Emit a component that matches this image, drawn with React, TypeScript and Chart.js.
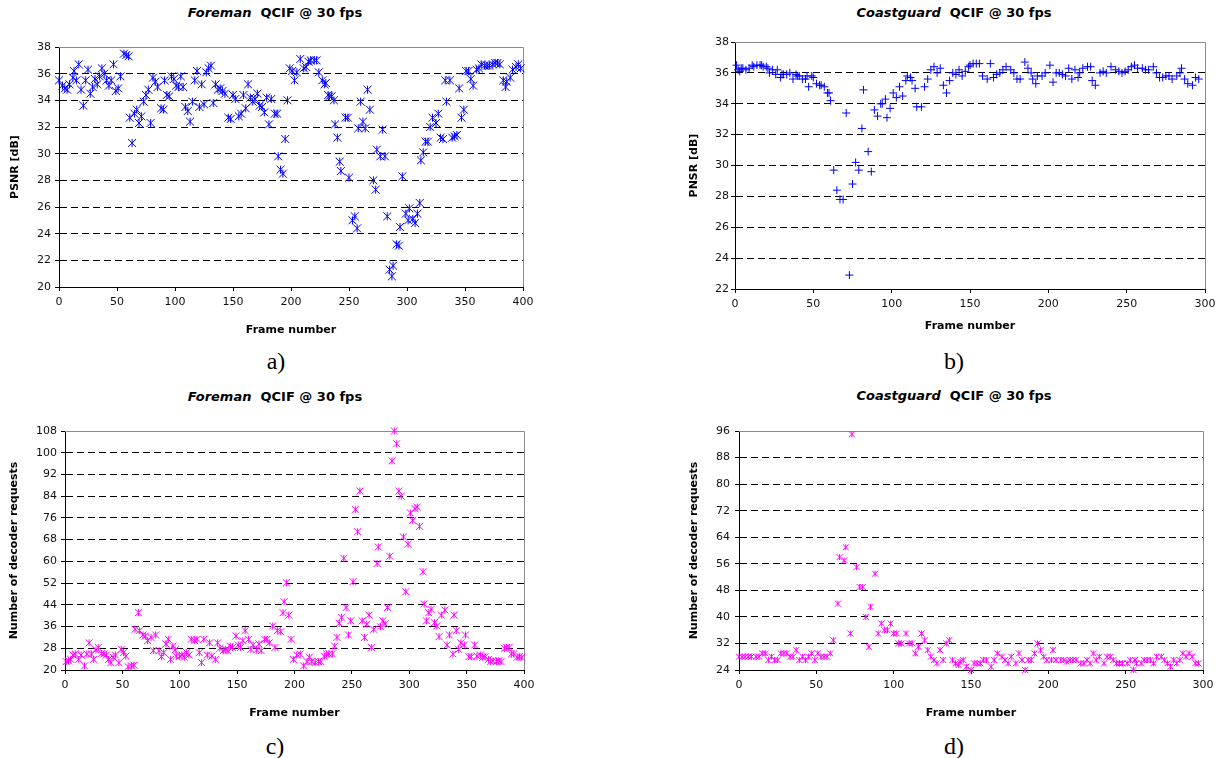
import React, { useEffect, useRef } from "react";
import { Chart, registerables } from "chart.js";

Chart.register(...registerables);

// ---------- Data ----------
// a) Foreman QCIF @ 30 fps – PSNR [dB]
const foremanPsnrFrames = [
  0, 3, 5, 7, 9, 12, 13, 15, 17, 19, 21, 23, 25, 27, 29, 31, 33, 35, 37, 39, 41, 43, 45, 47, 49, 51, 53, 56, 58, 60,
  61, 63, 65, 67, 69, 71, 73, 75, 77, 79, 81, 83, 85, 88, 90, 91, 93, 95, 97, 99, 101, 103, 105, 107, 109, 111, 113,
  115, 117, 119, 121, 123, 125, 127, 129, 131, 133, 135, 137, 139, 141, 143, 146, 148, 150, 152, 155, 157, 159, 161,
  163, 165, 167, 169, 171, 173, 175, 177, 179, 181, 183, 186, 188, 189, 191, 193, 195, 197, 199, 201, 203, 205, 208,
  211, 213, 215, 217, 220, 222, 224, 227, 229, 230, 232, 233, 235, 237, 238, 240, 242, 243, 247, 249, 250, 253, 255,
  257, 258, 260, 262, 264, 266, 268, 271, 273, 274, 277, 279, 281, 283, 285, 287, 288, 291, 293, 294, 296, 299, 301,
  302, 305, 307, 309, 311, 312, 314, 316, 318, 320, 322, 325, 327, 329, 331, 333, 334, 337, 339, 341, 343, 345, 347,
  349, 351, 353, 355, 357, 360, 362, 364, 367, 369, 371, 374, 376, 378, 380, 383, 385, 386, 389, 391, 394, 396, 398,
];
const foremanPsnrDb = [
  35.5, 35.1, 34.9, 34.8, 35.2, 35.7, 36.2, 35.5, 36.7, 34.8, 33.6, 35.5, 36.3, 34.5, 35.0, 35.6, 35.2, 35.8, 36.4,
  36.0, 35.5, 35.1, 35.5, 36.7, 34.7, 34.9, 35.8, 37.5, 37.4, 37.3,
  32.7, 30.8, 33.0, 33.3, 32.3, 32.8, 33.9, 34.4, 34.8, 32.3, 35.7, 35.4, 35.0, 33.4, 33.3, 35.5, 34.4, 34.3, 35.8,
  35.6, 35.1, 35.0, 35.8, 35.0, 33.5, 33.2, 32.4,
  33.9, 35.5, 36.2, 33.5, 35.2, 33.7, 36.1, 36.4, 36.6, 33.8, 35.2, 34.8, 34.9, 34.7, 34.5, 32.7, 32.6, 34.4, 34.1,
  32.8, 33.0, 34.4, 33.4,
  35.2, 34.2, 33.9, 34.1, 34.5, 33.6, 33.5, 33.1, 34.2, 32.2, 34.1, 33.0, 33.0, 29.8, 28.8, 28.5, 31.1, 34.0, 36.4,
  36.2, 35.5, 36.1, 37.1,
  36.4, 36.5, 36.9, 37.0, 37.0, 37.0, 36.1, 35.5, 35.2, 35.3, 34.4, 34.3, 34.3, 34.0, 32.2, 31.2, 29.4, 28.7, 32.7,
  32.7, 28.2, 25.0, 25.3,
  24.4, 31.9, 33.9, 32.4, 31.9, 34.8, 33.3, 28.0, 27.3, 30.3, 29.8, 31.8, 29.8, 25.3, 21.3, 20.8, 21.6, 23.2, 23.1,
  24.5, 28.3, 25.5, 25.0,
  25.9, 25.1, 24.8, 25.5, 26.3, 29.5, 30.1, 30.9, 30.9, 32.0, 32.7, 32.3, 33.0, 31.2, 31.1, 35.5, 33.9, 35.5, 31.2,
  31.3, 31.4, 34.9, 32.7,
  33.3, 36.2, 36.2, 35.6, 35.1, 36.3, 36.4, 36.7, 36.6, 36.6, 36.6, 36.7, 36.8, 36.8, 36.7, 35.5, 35.0, 35.4, 35.7,
  36.3, 36.5, 36.7, 36.4,
];

// b) Coastguard QCIF @ 30 fps – PSNR [dB]
const coastguardPsnrFrames = [
  1, 2, 3, 4, 5, 7, 9, 11, 12, 14, 16, 17, 18, 20, 21, 22, 24, 26, 27, 29, 30, 31, 33, 35, 37, 39, 40, 41, 43, 45, 46,
  47, 49, 50, 52, 54, 55, 57, 59, 60, 61, 63, 65, 67, 69, 71, 73, 75, 77, 79, 81, 82, 85, 87, 89, 91, 93, 94, 96, 97,
  99, 101, 103, 105, 107, 109, 110, 112, 113, 115, 116, 119, 121, 123, 125, 127, 129, 131, 133, 135, 137, 139, 141,
  143, 145, 147, 149, 150, 152, 154, 156, 158, 161, 163, 165, 167, 169, 171, 173, 176, 178, 180, 182, 185, 187, 189,
  190, 192, 193, 196, 198, 201, 203, 205, 207, 209, 211, 213, 215, 217, 219, 220, 222, 225, 227, 228, 230, 233, 235,
  237, 240, 243, 245, 247, 249, 251, 253, 255, 257, 260, 262, 264, 267, 269, 271, 273, 275, 277, 279, 282, 284, 285,
  287, 289, 292, 294, 296,
];
const coastguardPsnrDb = [
  36.5, 36.2, 36.1, 36.3, 36.3, 36.2, 36.3, 36.5, 36.4, 36.5, 36.5, 36.5, 36.4, 36.4, 36.3, 36.0, 36.2, 35.9, 36.2,
  35.7, 35.9, 35.9, 35.9, 36.0, 35.6, 35.9, 35.8, 35.8, 35.6, 35.6, 35.8,
  35.1, 35.8, 35.7, 35.3, 35.2, 35.2, 35.1, 34.7, 34.7, 34.2, 29.7, 28.4, 27.8, 27.8, 33.4, 22.9, 28.8, 30.2, 29.7,
  32.4, 34.9, 30.9, 29.6, 33.6, 33.2, 34.0, 34.0, 34.3, 33.1,
  33.7, 34.7, 34.4, 35.1, 34.5, 35.5, 35.8, 35.7, 35.5, 35.0, 33.8, 33.8, 35.1, 35.6, 36.2, 36.4, 36.0, 36.3, 35.2,
  34.7, 35.5, 36.0, 35.9,
  36.2, 35.8, 36.1, 36.4, 36.5, 36.6, 36.6, 36.6, 35.8, 35.6, 36.6, 35.7, 35.9, 36.0, 36.2, 36.4, 36.2, 36.0, 35.6,
  35.6, 36.7, 36.3, 36.0,
  35.6, 35.3, 35.8, 35.8, 36.0, 36.5, 35.4, 36.0, 36.0, 35.9, 35.8, 36.3, 35.6, 36.2, 35.7, 36.0, 36.3, 36.4, 36.4,
  35.5, 35.2, 36.0, 36.1,
  36.0, 36.4, 36.2, 36.1, 36.0, 36.1, 36.2, 36.4, 36.5, 36.3, 36.3, 36.2, 36.2, 36.4, 36.0, 35.7, 35.7, 35.8, 35.8,
  35.6, 35.8, 36.0, 36.3,
  35.6, 35.3, 35.2, 35.7, 35.6,
];

// c) Foreman QCIF @ 30 fps – number of decoder requests
const foremanReqFrames = [
  1, 3, 5, 7, 9, 12, 14, 17, 19, 21, 23, 25, 27, 29, 32, 34, 36, 38, 40, 42, 44, 47, 49, 51, 53, 55, 58, 60, 61, 64,
  65, 68, 70, 72, 75, 77, 79, 82, 84, 86, 88, 90, 92, 94, 96, 97, 100, 102, 104, 106, 108, 110, 113, 115, 117, 119,
  121, 124, 126, 128, 131, 133, 135, 138, 140, 142, 144, 146, 149, 151, 153, 155, 157, 160, 162, 164, 167, 169, 171,
  174, 176, 178, 181, 183, 185, 188, 190, 191, 193, 195, 197, 199, 202, 205, 208, 211, 213, 215, 218, 221, 223, 226,
  228, 230, 233, 235, 237, 239, 241, 243, 245, 247, 249, 251, 253, 255, 257, 259, 261, 263, 265, 267, 269, 272, 273,
  275, 277, 279, 281, 283, 285, 287, 289, 291, 293, 295, 297, 299, 301, 303, 305, 307, 309, 312, 313, 315, 317, 319,
  322, 324, 326, 328, 331, 333, 335, 338, 339, 341, 343, 345, 348, 349, 352, 354, 357, 359, 362, 364, 366, 369, 371,
  373, 376, 378, 380, 383, 385, 387, 389, 391, 394, 396, 398,
];
const foremanRequests = [
  23.1, 23.4, 23.9, 25.5, 25.9, 23.9, 25.5, 21.5, 25.9, 30.0, 25.9, 23.9, 27.4, 28.3, 26.1, 25.9, 25.5, 23.9, 22.7,
  24.7, 25.5, 22.7, 27.6, 26.4, 25.1, 21.2, 21.5, 21.8, 35.0, 41.1,
  34.5, 32.9, 32.5, 30.8, 32.0, 27.1, 32.9, 27.1, 24.9, 26.4, 29.6, 31.3, 23.9, 28.8, 27.4, 25.1, 25.1, 25.5, 24.7,
  26.4, 25.5, 31.3, 30.8, 31.3, 26.4, 22.7,
  31.3, 25.5, 30.0, 25.1, 23.9, 30.0, 28.0, 27.1, 27.6, 27.1, 28.8, 28.3, 32.5, 29.2, 28.3, 30.8, 34.5, 31.3, 27.6,
  29.2, 27.4, 29.6, 27.1,
  31.3, 31.3, 30.0, 36.2, 28.3, 34.5, 34.1, 41.1, 45.1, 52.1, 40.2, 31.3, 23.9, 25.5, 25.9, 21.5, 23.1, 24.7, 23.1,
  22.7, 23.1, 23.1, 25.1,
  25.9, 25.9, 25.9, 28.8, 32.0, 37.2, 39.4, 61.1, 43.0, 32.9, 38.1, 52.5, 79.1, 70.9, 85.9, 38.1, 32.0, 36.9, 40.2,
  28.3, 35.0, 59.2, 65.3,
  35.9, 38.1, 36.9, 43.0, 61.9, 97.0, 108.0, 103.3, 85.9, 84.0, 69.0, 48.8, 66.3, 77.8, 75.1, 79.4, 80.0, 72.9, 56.2,
  44.3, 38.1, 41.1, 42.3,
  37.4, 36.2, 32.3, 40.2, 42.1, 29.2, 32.9, 25.9, 40.2, 34.5, 27.6, 30.0, 29.2, 32.9, 24.9, 24.9, 29.2, 25.1, 25.5,
  24.7, 24.9, 23.9, 23.1,
  23.4, 23.1, 23.4, 23.1, 28.0, 28.3, 28.3, 25.9, 25.9, 24.7, 24.9, 24.7,
];

// d) Coastguard QCIF @ 30 fps – number of decoder requests
const coastguardReqFrames = [
  0, 2, 4, 6, 8, 11, 13, 15, 17, 19, 21, 23, 25, 27, 29, 31, 33, 35, 37, 39, 41, 43, 45, 47, 49, 51, 53, 55, 57, 59,
  61, 64, 65, 68, 69, 72, 73, 76, 78, 80, 82, 84, 85, 88, 90, 92, 94, 96, 98, 100, 102, 103, 105, 108, 110, 112, 114,
  116, 118, 120, 122, 124, 126, 128, 130, 132, 134, 136, 138, 140, 142, 143, 145, 147, 150, 152, 154, 156, 158, 160,
  163, 165, 167, 170, 172, 174, 176, 179, 181, 183, 185, 187, 189, 191, 193, 195, 197, 199, 202, 203, 205, 208, 210,
  212, 214, 216, 218, 221, 223, 225, 227, 229, 231, 233, 236, 238, 240, 242, 244, 246, 248, 251, 253, 255, 256, 257,
  260, 262, 264, 266, 268, 270, 273, 275, 277, 279, 281, 283, 285, 287, 289, 291, 293, 295, 297,
];
const coastguardRequests = [
  28, 28, 28, 28, 28, 28, 28, 29, 29, 27, 28, 27, 27, 29, 29, 29, 28, 28, 30, 27, 28, 27, 28, 29, 27, 29, 28, 28, 28,
  29,
  33, 44, 58, 57, 61, 35, 95, 55, 49, 49, 40, 31, 43, 53, 35, 38, 36, 36, 38, 35, 35, 32, 32, 35, 32, 32, 29,
  31, 35, 33, 30, 28, 27, 26, 30, 27, 32, 33, 27, 26, 25.5, 26.5, 27, 25, 24, 26, 26, 26, 27, 27,
  25, 27, 29, 28, 27, 26, 28, 26, 29, 27, 24, 27, 27, 29, 32, 30, 28, 27, 27, 30, 27, 27, 27,
  26.5, 27, 27, 27, 26, 26, 27, 26, 29, 27, 28, 26, 28, 28, 27, 26, 26, 26, 26, 27, 24, 27, 26,
  26, 27, 27, 27, 26, 28, 28, 27, 26, 25, 27, 26, 27, 29, 28, 29, 28, 26, 26,
];

// ---------- Helpers ----------
const FONT = "'DejaVu Sans', Verdana, sans-serif";

const frameBorder = {
  id: "frameBorder",
  beforeDatasetsDraw(chart: any) {
    const { ctx, chartArea } = chart;
    const l = chartArea.left;
    const t = Math.round(chartArea.top) + 0.5;
    const r = Math.round(chartArea.right) + 0.5;
    const b = chartArea.bottom;
    ctx.save();
    ctx.strokeStyle = "#8a8a8a";
    ctx.lineWidth = 1;
    ctx.setLineDash([]);
    ctx.beginPath();
    ctx.moveTo(l, t);
    ctx.lineTo(r, t);
    ctx.lineTo(r, b);
    ctx.stroke();
    ctx.restore();
  },
};

type PanelProps = {
  left: number;
  top: number;
  width: number;
  height: number;
  frames: number[];
  values: number[];
  xMax: number;
  yMin: number;
  yMax: number;
  yStep: number;
  yTitle: string;
  markerKind: "asterisk" | "plus";
  color: string;
  markerSize: number;
  padTop: number;
  padRight: number;
  yAxisWidth: number;
  xAxisHeight: number;
  yTitlePad: number;
  xTitlePad: number;
  yTickPad: number;
};

function Panel(p: PanelProps) {
  const ref = useRef<HTMLCanvasElement>(null);
  useEffect(() => {
    const points = p.frames.map((f, i) => ({ x: f, y: p.values[i] }));
    const base = {
      data: points,
      showLine: false,
      clip: false as any,
      pointBorderColor: p.color,
      pointBackgroundColor: p.color,
      pointBorderWidth: 1,
    };
    const datasets: any[] =
      p.markerKind === "plus"
        ? [{ ...base, pointStyle: "cross", pointRadius: p.markerSize / 2 }]
        : [
            { ...base, pointStyle: "crossRot", pointRadius: (p.markerSize / 2) * 1.41 },
            { ...base, pointStyle: "line", pointRotation: 90, pointRadius: p.markerSize / 2 },
          ];
    const chart = new Chart(ref.current!, {
      type: "scatter",
      data: { datasets },
      options: {
        responsive: false,
        maintainAspectRatio: false,
        animation: false,
        devicePixelRatio: 1,
        events: [],
        layout: { padding: { top: p.padTop, right: p.padRight, left: 0, bottom: 0 } },
        plugins: { legend: { display: false }, tooltip: { enabled: false }, title: { display: false } },
        scales: {
          x: {
            type: "linear",
            min: 0,
            max: p.xMax,
            ticks: {
              stepSize: 50,
              autoSkip: false,
              maxRotation: 0,
              color: "#111",
              padding: 5,
              font: { family: FONT, size: 11 },
            },
            grid: {
              drawOnChartArea: false,
              drawTicks: true,
              tickLength: 4,
              tickColor: "#000",
              tickWidth: 1,
            },
            border: { display: true, color: "#000", width: 1 },
            title: {
              display: true,
              text: "Frame number",
              color: "#000",
              font: { family: FONT, size: 11, weight: "bold" },
              padding: { top: 0, bottom: p.xTitlePad },
            },
            afterFit: (s: any) => {
              s.height = p.xAxisHeight;
            },
          },
          y: {
            type: "linear",
            min: p.yMin,
            max: p.yMax,
            ticks: {
              stepSize: p.yStep,
              autoSkip: false,
              color: "#111",
              padding: p.yTickPad,
              font: { family: FONT, size: 11 },
            },
            grid: {
              color: (c: any) => (c.tick && c.tick.value === p.yMax ? "rgba(0,0,0,0)" : "#000"),
              lineWidth: 1,
              drawTicks: true,
              tickLength: 4,
              tickColor: "#000",
              tickWidth: 1,
              tickBorderDash: [],
            },
            border: { display: true, color: "#000", width: 1, dash: [7, 4] },
            title: {
              display: true,
              text: p.yTitle,
              color: "#000",
              font: { family: FONT, size: 11, weight: "bold" },
              padding: { top: p.yTitlePad, bottom: 0 },
            },
            afterFit: (s: any) => {
              s.width = p.yAxisWidth;
            },
          },
        },
      } as any,
      plugins: [frameBorder],
    });
    return () => chart.destroy();
  }, []);
  return (
    <canvas
      ref={ref}
      width={p.width}
      height={p.height}
      style={{ position: "absolute", left: p.left, top: p.top, width: p.width, height: p.height }}
    />
  );
}

function Title({ name, cx, cy }: { name: string; cx: number; cy: number }) {
  return (
    <div
      style={{
        position: "absolute",
        left: cx - 200,
        top: cy - 8,
        width: 400,
        lineHeight: "16px",
        textAlign: "center",
        fontFamily: FONT,
        fontSize: 13,
        fontWeight: "bold",
        whiteSpace: "pre",
        color: "#000",
      }}
    >
      <span style={{ fontStyle: "italic" }}>{name}</span>
      {"  QCIF @ 30 fps"}
    </div>
  );
}

function Caption({ text, cx, cy }: { text: string; cx: number; cy: number }) {
  return (
    <div
      style={{
        position: "absolute",
        left: cx - 50,
        top: cy - 14,
        width: 100,
        lineHeight: "28px",
        textAlign: "center",
        fontFamily: "'Liberation Serif', 'Times New Roman', serif",
        fontSize: 24,
        color: "#000",
      }}
    >
      {text}
    </div>
  );
}

export default function App() {
  return (
    <div
      style={{
        position: "fixed",
        left: 0,
        top: 0,
        width: 1221,
        height: 758,
        background: "#fff",
        overflow: "hidden",
      }}
    >
      <Title name="Foreman" cx={275} cy={13} />
      <Title name="Coastguard" cx={954} cy={13} />
      <Title name="Foreman" cx={275} cy={397} />
      <Title name="Coastguard" cx={954} cy={396} />

      <Panel
        left={0}
        top={0}
        width={560}
        height={345}
        frames={foremanPsnrFrames}
        values={foremanPsnrDb}
        xMax={400}
        yMin={20}
        yMax={38}
        yStep={2}
        yTitle="PSNR [dB]"
        markerKind="asterisk"
        color="#0000ff"
        markerSize={8}
        padTop={47}
        padRight={37}
        yAxisWidth={59}
        xAxisHeight={58}
        yTitlePad={9}
        xTitlePad={8}
        yTickPad={4}
      />
      <Panel
        left={650}
        top={0}
        width={571}
        height={340}
        frames={coastguardPsnrFrames}
        values={coastguardPsnrDb}
        xMax={300}
        yMin={22}
        yMax={38}
        yStep={2}
        yTitle="PNSR [dB]"
        markerKind="plus"
        color="#0000ff"
        markerSize={8}
        padTop={42}
        padRight={16}
        yAxisWidth={85}
        xAxisHeight={51}
        yTitlePad={38}
        xTitlePad={7}
        yTickPad={2}
      />
      <Panel
        left={0}
        top={380}
        width={560}
        height={345}
        frames={foremanReqFrames}
        values={foremanRequests}
        xMax={400}
        yMin={20}
        yMax={108}
        yStep={8}
        yTitle="Number of decoder requests"
        markerKind="asterisk"
        color="#ff00ff"
        markerSize={7}
        padTop={51}
        padRight={36}
        yAxisWidth={65}
        xAxisHeight={55}
        yTitlePad={8}
        xTitlePad={5}
        yTickPad={4}
      />
      <Panel
        left={650}
        top={380}
        width={571}
        height={345}
        frames={coastguardReqFrames}
        values={coastguardRequests}
        xMax={300}
        yMin={24}
        yMax={96}
        yStep={8}
        yTitle="Number of decoder requests"
        markerKind="asterisk"
        color="#ff00ff"
        markerSize={6}
        padTop={51}
        padRight={18}
        yAxisWidth={89}
        xAxisHeight={55}
        yTitlePad={38}
        xTitlePad={5}
        yTickPad={5}
      />

      <Caption text="a)" cx={276} cy={361} />
      <Caption text="b)" cx={954} cy={361} />
      <Caption text="c)" cx={275} cy={746} />
      <Caption text="d)" cx={954} cy={746} />
    </div>
  );
}
